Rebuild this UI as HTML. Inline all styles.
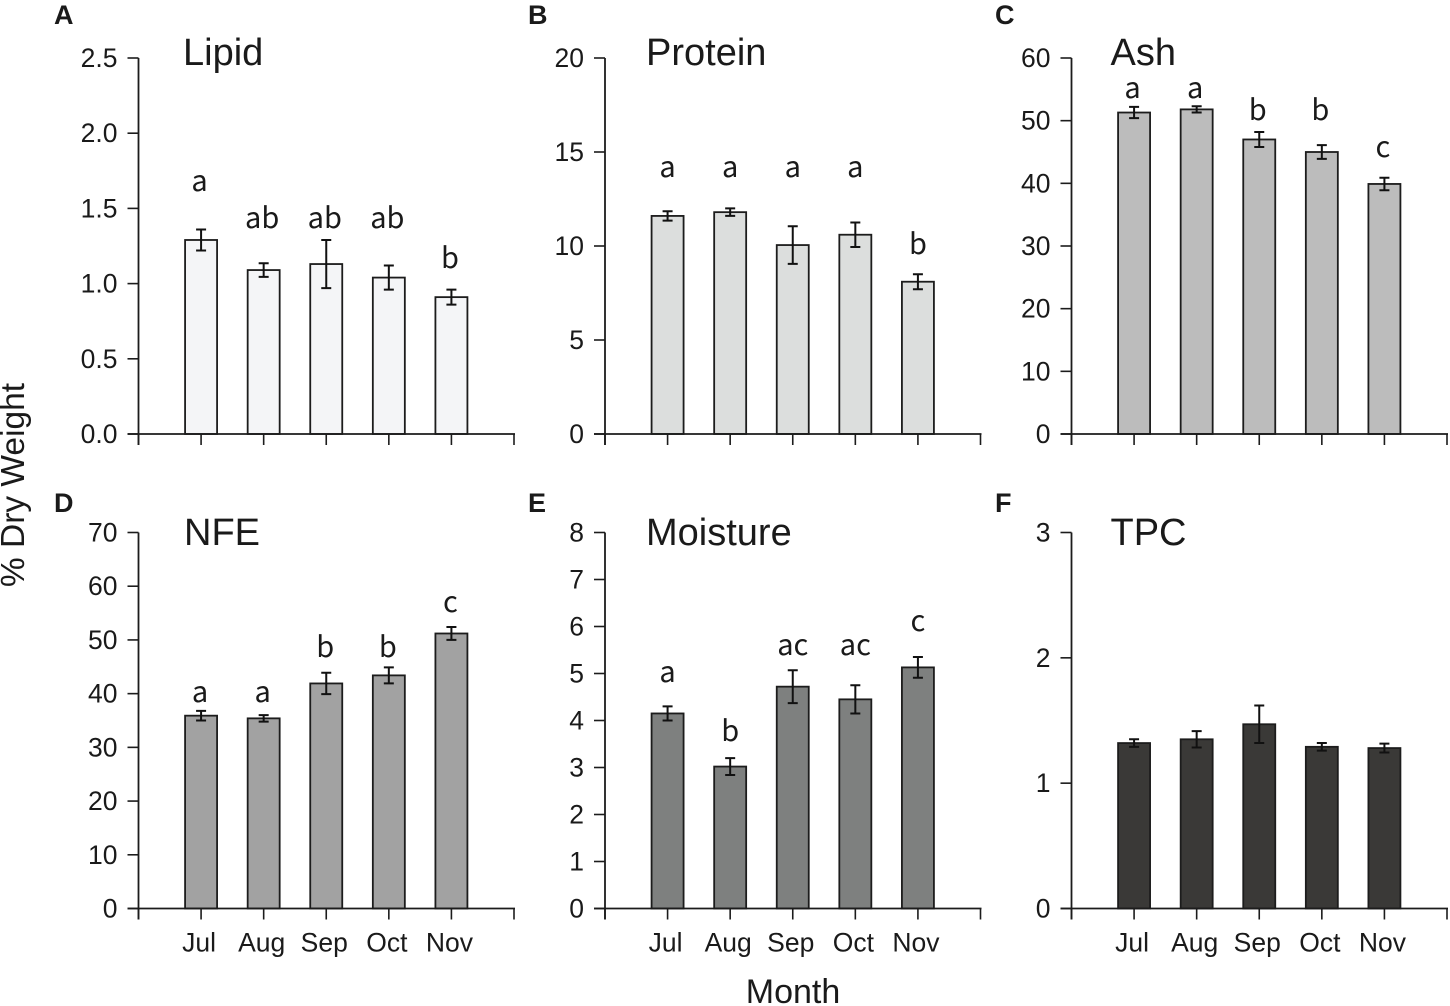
<!DOCTYPE html>
<html lang="en">
<head>
<meta charset="utf-8">
<title>Monthly composition charts</title>
<style>
html,body{margin:0;padding:0;background:#fff;}
svg{display:block;}
text{font-family:"Liberation Sans",sans-serif;fill:#1a1a1a;}
.sig{font-family:"Noto Sans CJK JP","Liberation Sans",sans-serif;font-size:29px;text-anchor:middle;}
</style>
</head>
<body>
<svg id="figure" width="1450" height="1006" viewBox="0 0 1450 1006" xmlns="http://www.w3.org/2000/svg">
<text transform="translate(24,485) rotate(-90)" font-size="33.5" text-anchor="middle">% Dry Weight</text>
<text x="793" y="1003" font-size="34" text-anchor="middle">Month</text>
</svg>
<script>
const months = ['Jul','Aug','Sep','Oct','Nov'];

const lipidValues = [1.29,1.09,1.13,1.04,0.91];
const lipidErrors = [0.07,0.045,0.16,0.08,0.05];
const lipidTicks = ['0.0','0.5','1.0','1.5','2.0','2.5'];
const lipidLetters = ['a','ab','ab','ab','b'];
const lipidLetterLift = [0.256,0.235,0.08,0.25,0.144];

const proteinValues = [11.6,11.8,10.05,10.6,8.1];
const proteinErrors = [0.25,0.2,1,0.65,0.4];
const proteinTicks = ['0','5','10','15','20'];
const proteinLetters = ['a','a','a','a','b'];
const proteinLetterLift = [1.82,1.67,2.62,2.42,1.07];

const ashValues = [51.3,51.8,47,45,39.9];
const ashErrors = [0.9,0.5,1.2,1.1,1];
const ashTicks = ['0','10','20','30','40','50','60'];
const ashLetters = ['a','a','b','b','c'];
const ashLetterLift = [1.4,1.3,1.9,4,3.3];

const nfeValues = [35.9,35.4,41.9,43.4,51.2];
const nfeErrors = [0.9,0.6,2,1.5,1.2];
const nfeTicks = ['0','10','20','30','40','50','60','70'];
const nfeLetters = ['a','a','b','b','c'];
const nfeLetterLift = [1.6,2.4,2.9,1.9,2.8];

const moistureValues = [4.15,3.02,4.72,4.45,5.13];
const moistureErrors = [0.15,0.18,0.35,0.3,0.22];
const moistureTicks = ['0','1','2','3','4','5','6','7','8'];
const moistureLetters = ['a','b','ac','ac','c'];
const moistureLetterLift = [0.52,0.36,0.32,0.64,0.55];

const tpcValues = [1.32,1.35,1.47,1.29,1.28];
const tpcErrors = [0.03,0.065,0.15,0.03,0.035];
const tpcTicks = ['0','1','2','3'];
const tpcLetters = [];
const tpcLetterLift = [];

const NS = 'http://www.w3.org/2000/svg';
const figure = document.getElementById('figure');

function node(parent, tag, attrs, content) {
  const el = document.createElementNS(NS, tag);
  for (const k in attrs) el.setAttribute(k, attrs[k]);
  if (content !== undefined) el.textContent = content;
  parent.appendChild(el);
  return el;
}

function drawPanel(cfg) {
  const g = node(figure, 'g', {});
  
  

  const W = 375.5, H = 376;
  const max = parseFloat(cfg.ticks[cfg.ticks.length - 1]);
  const xPos = i => cfg.x + W * i / 6;
  const yPos = v => cfg.y + H - H * v / max;
  const ink = '#1c1c1c';

  const tag = node(g, 'text', {x: cfg.tagX, y: cfg.tagY, 'font-size': 27, 'font-weight': 'bold', fill: '#000'}, cfg.tag);
  
  

  const title = node(g, 'text', {x: cfg.titleX, y: cfg.titleY, 'font-size': 38}, cfg.title);
  
  

  cfg.values.forEach((v, i) => {
    const cx = xPos(i + 1);
    const bar = node(g, 'rect', {x: cx - 16, y: yPos(v), width: 32, height: yPos(0) - yPos(v), fill: cfg.color, stroke: ink, 'stroke-width': 1.8});
    
    

    const top = yPos(v + cfg.errors[i]);
    const bot = yPos(v - cfg.errors[i]);
    const err = node(g, 'path', {d: `M${cx} ${top}V${bot}M${cx - 5} ${top}H${cx + 5}M${cx - 5} ${bot}H${cx + 5}`, fill: 'none', stroke: '#111', 'stroke-width': 2});
    
    

    if (cfg.letters[i]) {
      const sig = node(g, 'text', {class: 'sig', x: cx + cfg.sigDx, y: yPos(v + cfg.errors[i] + cfg.lift[i])}, cfg.letters[i]);
      
      
    }
  });

  const yAxis = node(g, 'line', {x1: cfg.x, x2: cfg.x, y1: yPos(max), y2: yPos(0) + 11, stroke: ink, 'stroke-width': 1.8});
  
  

  const xAxis = node(g, 'line', {x1: cfg.x - 11, x2: xPos(6) + 1, y1: yPos(0), y2: yPos(0), stroke: ink, 'stroke-width': 1.8});
  
  

  cfg.ticks.forEach(label => {
    const v = parseFloat(label);
    const tick = node(g, 'line', {x1: cfg.x - 11, x2: cfg.x, y1: yPos(v), y2: yPos(v), stroke: ink, 'stroke-width': 1.6});
    
    
    const text = node(g, 'text', {x: cfg.x - 21, y: yPos(v) + 9, 'font-size': 26.5, 'text-anchor': 'end'}, label);
    
    
  });

  for (let i = 0; i <= 6; i++) {
    const tick = node(g, 'line', {x1: xPos(i), x2: xPos(i), y1: yPos(0), y2: yPos(0) + 11, stroke: ink, 'stroke-width': 1.6});
    
    
  }

  if (cfg.showMonths) {
    months.forEach((m, i) => {
      const text = node(g, 'text', {x: xPos(i + 1) - 2, y: yPos(0) + 43, 'font-size': 26.5, 'text-anchor': 'middle'}, m);
      
      
    });
  }
}

drawPanel({key:'lipid', tag:'A', tagX:54, tagY:24, title:'Lipid', titleX:183, titleY:65, sigDx:-1.5, x:138.5, y:58, color:'#f4f5f7', values:lipidValues, errors:lipidErrors, ticks:lipidTicks, letters:lipidLetters, lift:lipidLetterLift, showMonths:false});
drawPanel({key:'protein', tag:'B', tagX:528, tagY:24, title:'Protein', titleX:646, titleY:65, sigDx:0, x:605, y:58, color:'#dcdedd', values:proteinValues, errors:proteinErrors, ticks:proteinTicks, letters:proteinLetters, lift:proteinLetterLift, showMonths:false});
drawPanel({key:'ash', tag:'C', tagX:995, tagY:24, title:'Ash', titleX:1110.5, titleY:65, sigDx:-1.5, x:1071.5, y:58, color:'#bcbcbc', values:ashValues, errors:ashErrors, ticks:ashTicks, letters:ashLetters, lift:ashLetterLift, showMonths:false});
drawPanel({key:'nfe', tag:'D', tagX:54, tagY:512, title:'NFE', titleX:184, titleY:545, sigDx:-1, x:138.5, y:532.5, color:'#a2a2a2', values:nfeValues, errors:nfeErrors, ticks:nfeTicks, letters:nfeLetters, lift:nfeLetterLift, showMonths:true});
drawPanel({key:'moisture', tag:'E', tagX:528, tagY:512, title:'Moisture', titleX:646, titleY:545, sigDx:0, x:605, y:532.5, color:'#7e807f', values:moistureValues, errors:moistureErrors, ticks:moistureTicks, letters:moistureLetters, lift:moistureLetterLift, showMonths:true});
drawPanel({key:'tpc', tag:'F', tagX:995, tagY:512, title:'TPC', titleX:1110.5, titleY:545, sigDx:-1.5, x:1071.5, y:532.5, color:'#3a3937', values:tpcValues, errors:tpcErrors, ticks:tpcTicks, letters:tpcLetters, lift:tpcLetterLift, showMonths:true});
</script>
</body>
</html>
